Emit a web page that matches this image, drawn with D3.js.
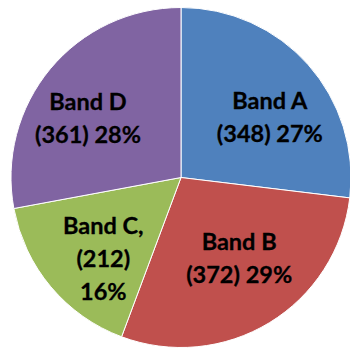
<!DOCTYPE html>
<html>
<head>
<meta charset="utf-8">
<script src="https://cdn.jsdelivr.net/npm/d3@7"></script>
<style>
  html, body { margin: 0; padding: 0; background: #ffffff; }
  svg { display: block; }
</style>
</head>
<body>
<svg id="chart" width="350" height="349"></svg>
<script>
// Band counts, drawn clockwise from 12 o'clock
const bands = ["Band A", "Band B", "Band C", "Band D"];
const counts = [348, 372, 212, 361];
const colors = ["#4F81BD", "#C0504D", "#9BBB59", "#8064A2"];
// Label text lines per slice ("Band C," wraps onto three lines)
const labelLines = [
  ["Band A", "(348) 27%"],
  ["Band B", "(372) 29%"],
  ["Band C,", "(212)", "16%"],
  ["Band D", "(361) 28%"]
];
// Small placement adjustments for the labels, in px
const labelNudge = [[8, 12], [2, -11], [5, 12], [-10, 10]];

const width = 350, height = 349;
const cx = 181, cy = 177.5, radius = 170;
const labelRadius = 108, lineGap = 33, capHalf = 8;

const svg = d3.select("#chart");
const g = svg.append("g").attr("transform", `translate(${cx},${cy})`);

const pie = d3.pie().sort(null).value(d => d);
const arcs = pie(counts);
const arc = d3.arc().innerRadius(0).outerRadius(radius);
const labelArc = d3.arc().innerRadius(labelRadius).outerRadius(labelRadius);

g.selectAll("path.slice")
  .data(arcs)
  .join("path")
  .attr("class", "slice")
  .attr("d", arc)
  .attr("fill", (d, i) => colors[i])
  .attr("stroke", "#ffffff")
  .attr("stroke-width", 1);

g.selectAll("text.lbl")
  .data(arcs)
  .join("text")
  .attr("class", "lbl")
  .attr("text-anchor", "middle")
  .attr("font-family", "Lato, 'Open Sans', sans-serif")
  .attr("font-weight", "bold")
  .attr("font-size", 23.5)
  .attr("fill", "#000000")
  .attr("stroke", "#000000")
  .attr("stroke-width", 0.3)
  .each(function (d, i) {
    const [x, y] = labelArc.centroid(d);
    const px = x + labelNudge[i][0];
    const py = y + labelNudge[i][1];
    const lines = labelLines[i];
    const first = py - (lines.length - 1) * lineGap / 2 + capHalf;
    d3.select(this).selectAll("tspan")
      .data(lines)
      .join("tspan")
      .attr("x", px)
      .attr("y", (t, k) => first + k * lineGap)
      .text(t => t);
  });
</script>
</body>
</html>
